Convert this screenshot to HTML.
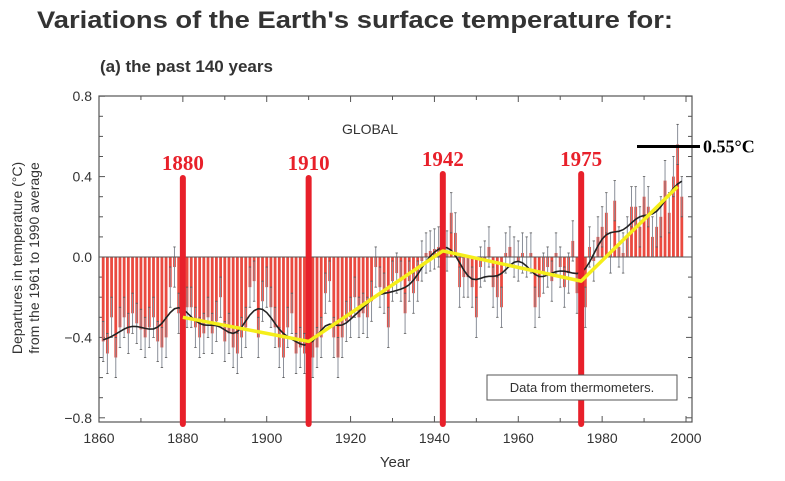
<!DOCTYPE html>
<html><head><meta charset="utf-8"><style>
body{margin:0;background:#fff;}
svg{display:block;font-family:"Liberation Sans",sans-serif;}
</style></head><body>
<svg id="chart" width="785" height="481" viewBox="0 0 785 481">
<text x="37" y="28" font-size="24" font-weight="bold" fill="#333" textLength="636" lengthAdjust="spacingAndGlyphs">Variations of the Earth's surface temperature for:</text>
<text x="100" y="72" font-size="17" font-weight="bold" fill="#333">(a) the past 140 years</text>
<g id="plot"></g>
</svg>
<script>
const years = [];
for (let y = 1861; y <= 1999; y++) years.push(y);
const anomalies = [
-0.42,-0.48,-0.30,-0.50,-0.35,-0.30,-0.38,-0.28,-0.33,-0.36,
-0.40,-0.35,-0.30,-0.42,-0.45,-0.40,-0.15,-0.05,-0.28,-0.30,
-0.25,-0.25,-0.35,-0.40,-0.38,-0.30,-0.38,-0.32,-0.20,-0.42,
-0.38,-0.45,-0.48,-0.40,-0.35,-0.15,-0.12,-0.40,-0.22,-0.15,
-0.25,-0.35,-0.45,-0.50,-0.35,-0.28,-0.48,-0.45,-0.48,-0.45,
-0.50,-0.45,-0.40,-0.18,-0.12,-0.40,-0.50,-0.40,-0.32,-0.30,
-0.20,-0.30,-0.28,-0.30,-0.22,-0.05,-0.15,-0.18,-0.35,-0.12,
-0.08,-0.12,-0.28,-0.12,-0.18,-0.12,-0.02,0.02,0.03,0.04,
0.05,0.02,0.03,0.22,0.12,-0.15,-0.10,-0.10,-0.15,-0.30,
-0.05,-0.02,0.05,-0.15,-0.20,-0.25,0.02,0.05,0.00,-0.02,
0.02,0.00,0.02,-0.25,-0.20,-0.08,-0.05,-0.12,0.02,-0.05,
-0.15,-0.08,0.08,-0.18,-0.12,-0.25,0.05,-0.02,0.10,0.15,
0.22,0.02,0.28,0.05,0.02,0.10,0.25,0.25,0.15,0.30,
0.25,0.10,0.15,0.20,0.38,0.22,0.40,0.56,0.30];
const errors = 0.1;
const trendYears = [1880,1910,1942,1975,1998];
const trendValues = [-0.30,-0.42,0.03,-0.12,0.35];
const markYears = [1880,1910,1942,1975];
const markLabels = ["1880","1910","1942","1975"];
const xTicks = [1860,1880,1900,1920,1940,1960,1980,2000];
const yTicks = [-0.8,-0.4,0.0,0.4,0.8];
const yTickLabels = ["\u22120.8","\u22120.4","0.0","0.4","0.8"];
const peakValue = 0.55;

const NS="http://www.w3.org/2000/svg";
const g=document.getElementById('plot');
const X=y=>99+(y-1860)*(587/140);
const Y=v=>257-v*201;
function el(t,a,p){const e=document.createElementNS(NS,t);for(const k in a)e.setAttribute(k,a[k]);(p||g).appendChild(e);return e;}

const frame=el('rect',{x:99,y:96,width:593,height:326,fill:'none',stroke:'#555','stroke-width':1.2});


for(let yr=1860;yr<=2000;yr+=10){const len=yr%20===0?6:4;
 el('line',{x1:X(yr),x2:X(yr),y1:422,y2:422-len,stroke:'#555'});
 el('line',{x1:X(yr),x2:X(yr),y1:96,y2:96+len,stroke:'#555'});}
for(let v=-0.8;v<=0.81;v+=0.1){const len=Math.abs(Math.round(v*10))%4===0?6:4;
 el('line',{x1:99,x2:99+len,y1:Y(v),y2:Y(v),stroke:'#555'});
 el('line',{x1:692,x2:692-len,y1:Y(v),y2:Y(v),stroke:'#555'});}
xTicks.forEach(t=>{const e=el('text',{x:X(t),y:443,'font-size':14,'text-anchor':'middle',fill:'#333'});e.textContent=t;
 
 });
yTicks.forEach((t,i)=>{const e=el('text',{x:92,y:Y(t)+5,'font-size':14,'text-anchor':'end',fill:'#333'});e.textContent=yTickLabels[i];
 
 });
const xt=el('text',{x:395,y:467,'font-size':15,'text-anchor':'middle',fill:'#333'});xt.textContent='Year';


const yt=el('text',{transform:'translate(22,258) rotate(-90)','font-size':14,'text-anchor':'middle',fill:'#333'});


const t1=el('tspan',{x:0,dy:0},yt);t1.textContent='Departures in temperature (\u00B0C)';
const t2=el('tspan',{x:0,dy:17},yt);t2.textContent='from the 1961 to 1990 average';
const gl=el('text',{x:370,y:134,'font-size':14,fill:'#333','text-anchor':'middle'});gl.textContent='GLOBAL';



years.forEach((yr,i)=>{const v=anomalies[i];const x=X(yr);
 const b=el('rect',{x:x-1.4,y:Math.min(Y(v),Y(0)),width:2.8,height:Math.abs(Y(v)-Y(0)),fill:'#ea4a40'});
 
 
 const e=el('line',{x1:x,x2:x,y1:Y(v+errors),y2:Y(v-errors),stroke:'#8a8f99','stroke-width':1});
 
 
 el('line',{x1:x-1.2,x2:x+1.2,y1:Y(v+errors),y2:Y(v+errors),stroke:'#555','stroke-width':0.8});
 el('line',{x1:x-1.2,x2:x+1.2,y1:Y(v-errors),y2:Y(v-errors),stroke:'#555','stroke-width':0.8});
});
el('line',{x1:99,x2:692,y1:Y(0),y2:Y(0),stroke:'#555','stroke-width':1});

let pts=[];
years.forEach((yr,i)=>{let s=0,w=0;for(let j=0;j<years.length;j++){const d=years[j]-yr;const ww=Math.exp(-d*d/(2*2.4*2.4));s+=ww*anomalies[j];w+=ww;}pts.push(X(yr)+','+Y(s/w));});
const sm=el('polyline',{points:pts.join(' '),fill:'none',stroke:'#222','stroke-width':1.6});



markYears.forEach((yr,i)=>{const l=el('line',{x1:X(yr),x2:X(yr),y1:i<2?178:174,y2:424,stroke:'#e8202a','stroke-width':6,'stroke-linecap':'round'});
 
 
 const t=el('text',{x:X(yr),y:i<2?170:166,'font-size':21,'font-weight':'bold','font-family':'Liberation Serif, serif','text-anchor':'middle',fill:'#e8202a'});t.textContent=markLabels[i];
 
 });

const tr=el('polyline',{points:trendYears.map((y,i)=>X(y)+','+Y(trendValues[i])).join(' '),fill:'none',stroke:'#f5ee1a','stroke-width':3.5,'stroke-linejoin':'round'});



const pk=el('line',{x1:637,x2:700,y1:Y(peakValue),y2:Y(peakValue),stroke:'#000','stroke-width':3});


const pt=el('text',{x:703,y:Y(peakValue)+6,'font-size':18,'font-weight':'bold','font-family':'Liberation Serif, serif',fill:'#000'});pt.textContent='0.55\u00B0C';



const lb=el('rect',{x:487,y:375,width:190,height:25,fill:'#fff',stroke:'#555','stroke-width':1});


const lt=el('text',{x:582,y:392,'font-size':13,'text-anchor':'middle',fill:'#333'});lt.textContent='Data from thermometers.';


</script>
</body></html>
